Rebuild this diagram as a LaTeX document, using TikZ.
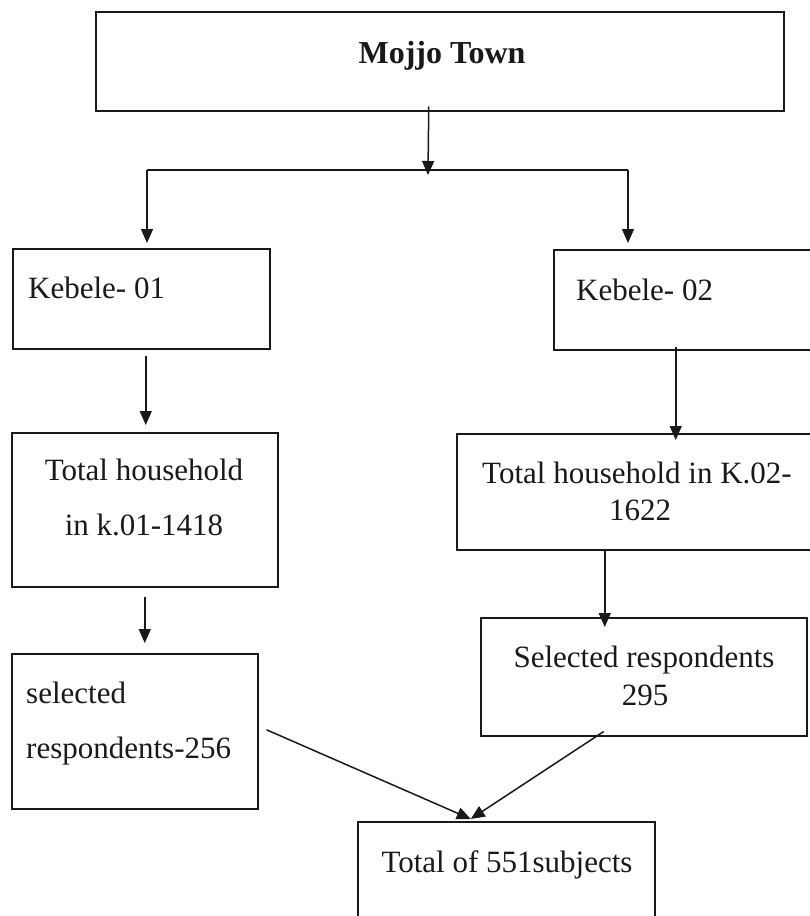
\documentclass[tikz,border=0pt]{standalone}
\usepackage{fontspec}
\setmainfont{Liberation Serif}
\usetikzlibrary{arrows.meta}
\tikzset{
  box/.style={draw=black!90, line width=1.5pt, inner sep=0pt},
  txt/.style={inner sep=0pt, font=\fontsize{31}{37}\selectfont, text=black!90},
  conn/.style={draw=black!90, line width=1.5pt},
  arr/.style={conn, -{Triangle[length=14pt,width=12pt]}}
}
\begin{document}
\begin{tikzpicture}[x=1pt,y=-1pt]
\useasboundingbox (0,0) rectangle (809,916);
% boxes
\node[box, anchor=north west, minimum width=688pt, minimum height=99pt] (m) at (95,11) {};
\node[box, anchor=north west, minimum width=257pt, minimum height=100pt] (k1) at (12,248) {};
\node[box, anchor=north west, minimum width=262pt, minimum height=100pt] (k2) at (553,249) {};
\node[box, anchor=north west, minimum width=266pt, minimum height=154pt] (t1) at (11,432) {};
\node[box, anchor=north west, minimum width=359pt, minimum height=116pt] (t2) at (456,433) {};
\node[box, anchor=north west, minimum width=246pt, minimum height=155pt] (s1) at (11,653) {};
\node[box, anchor=north west, minimum width=326pt, minimum height=118pt] (s2) at (480,617) {};
\node[box, anchor=north west, minimum width=297pt, minimum height=120pt] (tot) at (357,821) {};
% texts
\node[txt, anchor=base, font=\fontsize{32}{38}\selectfont\bfseries] (mt) at (442,63) {Mojjo Town};
\node[txt, anchor=base west] (k1t) at (28,298) {Kebele- 01};
\node[txt, anchor=base west] (k2t) at (576,300) {Kebele- 02};
\node[txt, anchor=base] (t1a) at (144,480) {Total household};
\node[txt, anchor=base] (t1b) at (144,535) {in k.01-1418};
\node[txt, anchor=base] (t2a) at (637,483) {Total household in K.02-};
\node[txt, anchor=base] (t2b) at (640,520) {1622};
\node[txt, anchor=base west] (s1a) at (26,703) {selected};
\node[txt, anchor=base west] (s1b) at (26,758) {respondents-256};
\node[txt, anchor=base] (s2a) at (644,667) {Selected respondents};
\node[txt, anchor=base] (s2b) at (645,705) {295};
\node[txt, anchor=base] (tott) at (507,872) {Total of 551subjects};
% junction
\coordinate (j) at (428,170);
\coordinate (jl) at (147,170);
\coordinate (jr) at (628,170);
% connectors
\draw[arr] ([xshift=-11pt,yshift=5pt]m.south) -- ([yshift=-5pt]j);
\draw[conn] (jl) -- (jr);
\draw[arr, shorten >=5pt] (jl) -- (jl |- k1.north);
\draw[arr, shorten >=6pt] (jr) -- (jr |- k2.north);
\draw[arr] ([xshift=4.5pt,yshift=-6pt]k1.south) -- ([xshift=1pt,yshift=7pt]t1.north);
\draw[arr] ([yshift=-9pt]t1.south) -- ([xshift=10pt,yshift=10pt]s1.north);
\draw[arr] ([xshift=-9pt,yshift=4pt]k2.south) -- ([xshift=39.5pt,yshift=-7pt]t2.north);
\draw[arr] ([xshift=-31.5pt]t2.south) -- ([xshift=-39pt,yshift=-10pt]s2.north);
\draw[arr] ([xshift=8pt,yshift=1.5pt]s1.east) -- ([xshift=-35.5pt,yshift=2pt]tot.north);
\draw[arr] ([xshift=-40pt,yshift=5pt]s2.south) -- ([xshift=-35.5pt,yshift=2pt]tot.north);
\end{tikzpicture}
\end{document}
